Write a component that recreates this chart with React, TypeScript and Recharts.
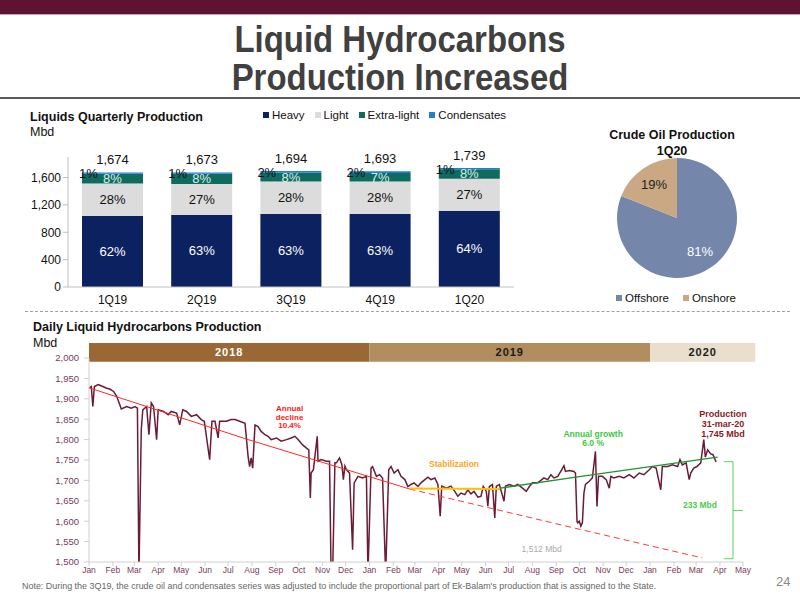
import React from 'react';
import {
  BarChart, Bar, XAxis, YAxis, LabelList, Legend,
  PieChart, Pie, Cell,
  LineChart, Line, ReferenceArea, ReferenceLine, ReferenceDot,
} from 'recharts';

// ---------------- Quarterly bar chart data ----------------
const quarters = ['1Q19', '2Q19', '3Q19', '4Q19', '1Q20'];
const seriesNames = ['Heavy', 'Light', 'Extra-light', 'Condensates'];
const heavy = [1038, 1054, 1067, 1067, 1113];
const light = [474, 452, 474, 474, 470];
const extraLight = [145, 150, 130, 125, 139];
const condensates = [17, 17, 23, 27, 17];
const totals = [1674, 1673, 1694, 1693, 1739];
const heavyPct = ['62%', '63%', '63%', '63%', '64%'];
const lightPct = ['28%', '27%', '28%', '28%', '27%'];
const extraLightPct = ['8%', '8%', '8%', '7%', '8%'];
const condensatesPct = ['1%', '1%', '2%', '2%', '1%'];
const barTicks = [0, 400, 800, 1200, 1600];

// ---------------- Pie data ----------------
const pieNames = ['Offshore', 'Onshore'];
const pieValues = [81, 19];
const pieColors = ['#7486aa', '#c9a883'];
const pieTextColors = ['#ffffff', '#222222'];

// ---------------- Daily production (day offset from 1-Jan-2018, Mbd) ----------------
const dailyProduction: [number, number][] = [
  [0, 1926], [3, 1930], [5, 1881], [7, 1930], [12, 1935], [18, 1930], [23, 1926], [27, 1924],
  [32, 1918], [36, 1906], [40, 1886], [42, 1875], [49, 1881], [55, 1877], [60, 1881], [63, 1877],
  [65, 1470], [68, 1824], [70, 1873], [75, 1881], [78, 1812], [81, 1890], [84, 1881], [88, 1800],
  [90, 1873], [97, 1869], [103, 1861], [107, 1869], [114, 1865], [118, 1836], [122, 1873], [127, 1869],
  [133, 1857], [140, 1861], [146, 1849], [150, 1845], [157, 1751], [160, 1845], [164, 1845], [168, 1804],
  [170, 1845], [179, 1845], [185, 1849], [190, 1849], [196, 1845], [203, 1840], [207, 1759], [209, 1734],
  [211, 1755], [213, 1730], [216, 1836], [220, 1832], [224, 1820], [229, 1812], [233, 1808], [237, 1800],
  [244, 1804], [250, 1796], [257, 1800], [263, 1804], [268, 1808], [272, 1800], [278, 1787], [283, 1779],
  [286, 1775], [288, 1657], [289, 1718], [292, 1726], [294, 1759], [297, 1808], [298, 1747], [302, 1751],
  [309, 1747], [313, 1747], [315, 1470], [317, 1470], [320, 1743], [322, 1743], [326, 1755], [329, 1739],
  [331, 1702], [333, 1735], [335, 1726], [339, 1718], [343, 1530], [345, 1694], [350, 1710], [356, 1706],
  [361, 1710], [363, 1470], [367, 1730], [369, 1734], [374, 1710], [378, 1714], [382, 1706], [386, 1470],
  [390, 1726], [393, 1734], [397, 1718], [402, 1726], [406, 1710], [411, 1702], [415, 1685], [419, 1690],
  [423, 1694], [428, 1685], [432, 1694], [437, 1702], [441, 1708], [445, 1702], [450, 1706], [454, 1690],
  [457, 1612], [459, 1686], [465, 1681], [471, 1686], [476, 1673], [480, 1661], [484, 1669], [489, 1665],
  [493, 1677], [497, 1667], [501, 1673], [506, 1659], [510, 1661], [513, 1685], [517, 1673], [519, 1637],
  [521, 1685], [525, 1690], [528, 1608], [530, 1686], [534, 1690], [540, 1649], [542, 1686], [547, 1690],
  [553, 1686], [558, 1690], [564, 1681], [569, 1673], [573, 1685], [577, 1694], [584, 1694], [588, 1700],
  [592, 1706], [597, 1702], [601, 1714], [605, 1706], [610, 1710], [615, 1726], [618, 1736], [620, 1722],
  [625, 1724], [631, 1722], [633, 1718], [635, 1600], [636, 1596], [638, 1600], [640, 1588], [642, 1596],
  [644, 1669], [646, 1690], [651, 1698], [655, 1706], [659, 1771], [661, 1636], [663, 1710], [668, 1710],
  [673, 1702], [677, 1681], [679, 1710], [683, 1706], [690, 1710], [696, 1706], [703, 1714], [709, 1706],
  [716, 1718], [722, 1714], [729, 1726], [733, 1734], [738, 1730], [744, 1677], [746, 1734], [753, 1734],
  [759, 1738], [766, 1734], [769, 1751], [772, 1738], [777, 1743], [781, 1702], [783, 1718], [787, 1730],
  [791, 1734], [796, 1743], [800, 1800], [802, 1757], [805, 1775], [809, 1765], [812, 1763], [816, 1745],
];

const declineSolid: [number, number][] = [[0, 1927], [207, 1800], [417, 1679]];
const declineDashed: [number, number][] = [[417, 1679], [632, 1583], [798, 1510]];
const stabilization: [number, number][] = [[417, 1680], [535, 1679]];
const growth: [number, number][] = [[535, 1681], [638, 1709], [818, 1757]];

const monthTicks = [0, 31, 59, 90, 120, 151, 181, 212, 243, 273, 304, 334,
  365, 396, 424, 455, 485, 516, 546, 577, 608, 638, 669, 699,
  730, 761, 790, 821, 851];
const monthLabels = ['Jan', 'Feb', 'Mar', 'Apr', 'May', 'Jun', 'Jul', 'Aug', 'Sep', 'Oct', 'Nov', 'Dec',
  'Jan', 'Feb', 'Mar', 'Apr', 'May', 'Jun', 'Jul', 'Aug', 'Sep', 'Oct', 'Nov', 'Dec',
  'Jan', 'Feb', 'Mar', 'Apr', 'May'];
const dailyTicks = [1500, 1550, 1600, 1650, 1700, 1750, 1800, 1850, 1900, 1950, 2000];

const years = ['2018', '2019', '2020'];
const yearStart = [0, 365, 730];
const yearEnd = [365, 730, 867];

const FONT = '"Liberation Sans", Arial, sans-serif';

const toPts = (arr: [number, number][]) => arr.map(([d, v]) => ({ d, v }));

const barData = quarters.map((q, i) => ({
  q, heavy: heavy[i], light: light[i], extraLight: extraLight[i], condensates: condensates[i],
}));
const pieData = pieNames.map((n, i) => ({ name: n, value: pieValues[i] }));

const centerLabel = (texts: string[], color: string) => (p: any) => (
  <text x={p.x + p.width / 2} y={p.y + p.height / 2} fill={color} fontSize={13}
    textAnchor="middle" dominantBaseline="central" fontFamily={FONT}>{texts[p.index]}</text>
);
const condLabel = (p: any) => (
  <text x={p.x - 3} y={p.y + 1} fill="#111" fontSize={13} textAnchor="start"
    dominantBaseline="central" fontFamily={FONT}>{condensatesPct[p.index]}</text>
);
const totalLabel = (p: any) => (
  <text x={p.x + p.width / 2} y={p.y - 13} fill="#111" fontSize={13} textAnchor="middle"
    dominantBaseline="central" fontFamily={FONT}>{totals[p.index].toLocaleString('en-US')}</text>
);

const LegendRow = ({ payload, order, colorOf, gap }: any) => {
  const items = [...(payload || [])].sort((a: any, b: any) => order.indexOf(a.value) - order.indexOf(b.value));
  return (
    <div style={{ display: 'flex', fontSize: 11.5, fontFamily: FONT, color: '#111', whiteSpace: 'nowrap' }}>
      {items.map((p: any) => (
        <span key={p.value} style={{ display: 'flex', alignItems: 'center', marginRight: gap }}>
          <span style={{ width: 6, height: 6, background: colorOf ? colorOf(p.value) : p.color, marginRight: 3 }} />
          {p.value}
        </span>
      ))}
    </div>
  );
};

const Note = ({ viewBox, lines, color, size, weight, gap }: any) => {
  const cx = viewBox.x + (viewBox.width || 0) / 2;
  const cy = viewBox.y + (viewBox.height || 0) / 2;
  const n = lines.length;
  return (
    <text textAnchor="middle" fill={color} fontSize={size} fontWeight={weight} fontFamily={FONT}>
      {lines.map((l: string, i: number) => (
        <tspan key={i} x={cx} y={cy + (i - (n - 1) / 2) * gap + size * 0.35}>{l}</tspan>
      ))}
    </text>
  );
};

const pieLabel = (p: any) => {
  const R = p.outerRadius * 0.68;
  const a = (-p.midAngle * Math.PI) / 180;
  return (
    <text x={p.cx + R * Math.cos(a)} y={p.cy + R * Math.sin(a)} fill={pieTextColors[p.index]}
      fontSize={13} textAnchor="middle" dominantBaseline="central" fontFamily={FONT}>
      {pieValues[p.index]}%
    </text>
  );
};

const fmt = (v: number) => v.toLocaleString('en-US');

const titleStyle: React.CSSProperties = {
  position: 'absolute', left: 0, width: 800, textAlign: 'center', fontFamily: FONT, fontWeight: 'bold',
  fontSize: 37, lineHeight: '38px', height: 38, color: '#404040', transform: 'scaleX(0.89)', transformOrigin: '400px 0',
  whiteSpace: 'nowrap',
};

export default function App() {
  return (
    <div style={{ position: 'absolute', left: 0, top: 0, width: 800, height: 600, background: '#fff', fontFamily: FONT, overflow: 'hidden' }}>
      {/* header */}
      <div style={{ position: 'absolute', left: 0, top: 0, width: 800, height: 14, background: '#5e1333' }} />
      <div style={{ position: 'absolute', left: 0, top: 14, width: 800, height: 1, background: '#c9a3b5' }} />
      <div style={{ ...titleStyle, top: 21 }}>Liquid Hydrocarbons</div>
      <div style={{ ...titleStyle, top: 59 }}>Production Increased</div>
      <div style={{ position: 'absolute', left: 0, top: 97, width: 800, height: 2, background: '#5a5a5a' }} />

      {/* bar chart */}
      <div style={{ position: 'absolute', left: 30, top: 110, fontSize: 12.5, fontWeight: 'bold', color: '#111' }}>Liquids Quarterly Production</div>
      <div style={{ position: 'absolute', left: 30, top: 125, fontSize: 12.5, color: '#111' }}>Mbd</div>
      <div style={{ position: 'absolute', left: 0, top: 100 }}>
        <BarChart width={560} height={210} data={barData} margin={{ top: 45, right: 46, bottom: 3, left: 28 }} barSize={61}>
          <YAxis width={40} domain={[0, 1900]} ticks={barTicks} tickFormatter={fmt} axisLine={{ stroke: '#bfbfbf' }}
            tickLine={{ stroke: '#bfbfbf' }} tickSize={5} tick={{ fontSize: 12, fill: '#111', fontFamily: FONT }} />
          <XAxis dataKey="q" height={20} axisLine={{ stroke: '#bfbfbf' }} tickLine={false}
            tick={{ fontSize: 12, fill: '#111', fontFamily: FONT }} />
          <Legend verticalAlign="top" align="left" wrapperStyle={{ top: 9, left: 263, width: 300 }}
            content={(p: any) => <LegendRow payload={p.payload} order={seriesNames} gap={10} />} />
          <Bar dataKey="heavy" name={seriesNames[0]} stackId="a" fill="#0b2160" isAnimationActive={false}>
            <LabelList content={centerLabel(heavyPct, '#ffffff')} />
          </Bar>
          <Bar dataKey="light" name={seriesNames[1]} stackId="a" fill="#dcdcdc" isAnimationActive={false}>
            <LabelList content={centerLabel(lightPct, '#111111')} />
          </Bar>
          <Bar dataKey="extraLight" name={seriesNames[2]} stackId="a" fill="#0f6b5f" isAnimationActive={false}>
            <LabelList content={centerLabel(extraLightPct, '#d8eee8')} />
          </Bar>
          <Bar dataKey="condensates" name={seriesNames[3]} stackId="a" fill="#1f7fd6" isAnimationActive={false}>
            <LabelList content={condLabel} />
            <LabelList content={totalLabel} />
          </Bar>
        </BarChart>
      </div>

      {/* pie chart */}
      <div style={{ position: 'absolute', left: 560, top: 127, width: 224, textAlign: 'center', fontSize: 12.5, fontWeight: 'bold', lineHeight: '16px', color: '#111' }}>
        Crude Oil Production<br />1Q20
      </div>
      <div style={{ position: 'absolute', left: 560, top: 120 }}>
        <PieChart width={240} height={190}>
          <Pie data={pieData} dataKey="value" nameKey="name" cx={112} cy={93} outerRadius={60}
            startAngle={90} endAngle={-270} stroke="none" label={pieLabel} labelLine={false} isAnimationActive={false}>
            {pieData.map((d, i) => <Cell key={d.name} fill={pieColors[i]} />)}
          </Pie>
          <Legend wrapperStyle={{ top: 172, left: 56, width: 200 }}
            content={(p: any) => <LegendRow payload={p.payload} order={pieNames} gap={14}
              colorOf={(n: string) => pieColors[pieNames.indexOf(n)]} />} />
        </PieChart>
      </div>

      {/* separator */}
      <div style={{ position: 'absolute', left: 25, top: 311, width: 765, borderTop: '1px dashed #a0a0a0' }} />

      {/* daily chart */}
      <div style={{ position: 'absolute', left: 33, top: 320, fontSize: 12.5, fontWeight: 'bold', color: '#111' }}>Daily Liquid Hydrocarbons Production</div>
      <div style={{ position: 'absolute', left: 33, top: 336, fontSize: 12.5, color: '#111' }}>Mbd</div>
      <div style={{ position: 'absolute', left: 0, top: 320 }}>
        <LineChart width={800} height={270} margin={{ top: 38, right: 57, bottom: 8, left: 39 }}>
          <XAxis dataKey="d" type="number" domain={[0, 851]} ticks={monthTicks} interval={0} height={20}
            tickFormatter={(v: number) => monthLabels[monthTicks.indexOf(v)]}
            axisLine={{ stroke: '#d0d0d0' }} tickLine={{ stroke: '#d0d0d0' }} tickSize={4} tickMargin={1}
            tick={{ fontSize: 8.5, fill: '#7a3a5c', fontFamily: FONT }} />
          <YAxis type="number" domain={[1500, 2000]} ticks={dailyTicks} allowDataOverflow width={50}
            tickFormatter={fmt} axisLine={{ stroke: '#d0d0d0' }} tickLine={{ stroke: '#d0d0d0' }} tickSize={5} tickMargin={5}
            tick={{ fontSize: 9.5, fill: '#7a3a5c', fontFamily: FONT }} />
          {years.map((y, i) => (
            <ReferenceArea key={y} x1={yearStart[i]} x2={yearEnd[i]} y1={1991} y2={2037} ifOverflow="visible"
              fill={['#9a6834', '#b18d5f', '#e9dfcc'][i]} fillOpacity={1} stroke="none"
              label={{ value: y, position: 'center', fill: i === 0 ? '#ffffff' : '#1a1a1a', fontSize: 11, fontWeight: 'bold', fontFamily: FONT, letterSpacing: 1 }} />
          ))}
          <Line data={toPts(dailyProduction)} dataKey="v" stroke="#6b1b36" strokeWidth={1.5} dot={false} isAnimationActive={false} />
          <Line data={toPts(declineSolid)} dataKey="v" stroke="#ff2a2a" strokeWidth={1} dot={false} isAnimationActive={false} />
          <Line data={toPts(declineDashed)} dataKey="v" stroke="#ff3b3b" strokeWidth={1} strokeDasharray="6 4" dot={false} isAnimationActive={false} />
          <Line data={toPts(stabilization)} dataKey="v" stroke="#ffc000" strokeWidth={2} dot={false} isAnimationActive={false} />
          <Line data={toPts(growth)} dataKey="v" stroke="#1e9431" strokeWidth={1.3} dot={false} isAnimationActive={false} />

          <ReferenceLine segment={[{ x: 838, y: 1746 }, { x: 838, y: 1508 }]} stroke="#5fcf5f" strokeWidth={1} />
          <ReferenceLine segment={[{ x: 826, y: 1746 }, { x: 838, y: 1746 }]} stroke="#5fcf5f" strokeWidth={1} />
          <ReferenceLine segment={[{ x: 826, y: 1508 }, { x: 838, y: 1508 }]} stroke="#5fcf5f" strokeWidth={1} />
          <ReferenceLine segment={[{ x: 838, y: 1626 }, { x: 851, y: 1626 }]} stroke="#5fcf5f" strokeWidth={1} />

          <ReferenceDot x={261} y={1855} r={0} fill="none" stroke="none"
            label={<Note lines={['Annual', 'decline', '10.4%']} color="#ff1a1a" size={8} weight="bold" gap={8.5} />} />
          <ReferenceDot x={475} y={1739} r={0} fill="none" stroke="none"
            label={<Note lines={['Stabilization']} color="#ffa319" size={8.5} weight="bold" gap={9} />} />
          <ReferenceDot x={656} y={1802} r={0} fill="none" stroke="none"
            label={<Note lines={['Annual growth', '6.0 %']} color="#3cc93c" size={8.5} weight="bold" gap={9} />} />
          <ReferenceDot x={825} y={1838} r={0} fill="none" stroke="none"
            label={<Note lines={['Production', '31-mar-20', '1,745 Mbd']} color="#8a1a22" size={9} weight="bold" gap={10} />} />
          <ReferenceDot x={795} y={1640} r={0} fill="none" stroke="none"
            label={<Note lines={['233 Mbd']} color="#4ccc4c" size={8.5} weight="bold" gap={9} />} />
          <ReferenceDot x={589} y={1532} r={0} fill="none" stroke="none"
            label={<Note lines={['1,512 Mbd']} color="#aaaaaa" size={8.5} weight="normal" gap={9} />} />
        </LineChart>
      </div>

      {/* footer */}
      <div style={{ position: 'absolute', left: 22, top: 580, fontSize: 9.5, color: '#666', whiteSpace: 'nowrap', transform: 'scaleX(0.94)', transformOrigin: '0 0' }}>
        Note: During the 3Q19, the crude oil and condensates series was adjusted to include the proportional part of Ek-Balam's production that is assigned to the State.
      </div>
      <div style={{ position: 'absolute', left: 776, top: 574, fontSize: 13, color: '#888' }}>24</div>
    </div>
  );
}
